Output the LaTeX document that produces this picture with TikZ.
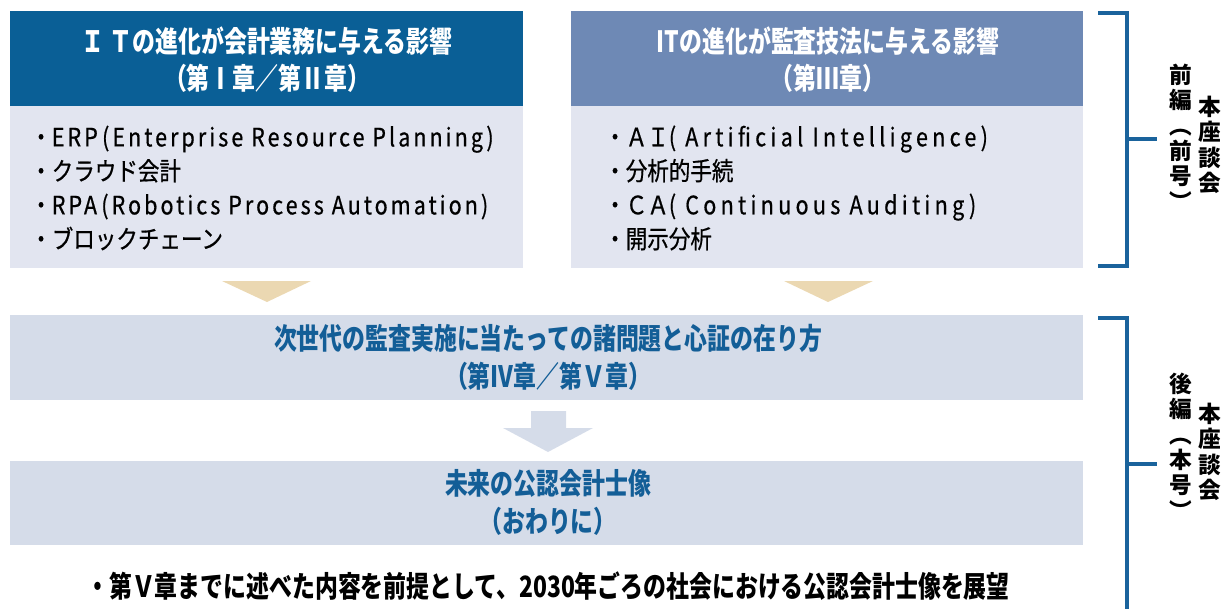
\documentclass[tikz,border=0pt]{standalone}
\usepackage{fontspec}
\setmainfont{Noto Sans CJK JP}
\newfontfamily\hcond{Noto Sans CJK JP}[FakeStretch=0.78]
\newfontfamily\bcond{Noto Sans CJK JP}[FakeStretch=0.85,FakeBold=0.6]
\newcommand{\lsp}[1]{{\addfontfeature{LetterSpace=12}#1}}
\newcommand{\lspw}[1]{{\addfontfeature{LetterSpace=17}#1}}
\definecolor{hdrL}{HTML}{0A5F96}
\definecolor{hdrR}{HTML}{6E89B5}
\definecolor{bodyL}{HTML}{E2E5F0}
\definecolor{band}{HTML}{D5DCE9}
\definecolor{tan}{HTML}{EBD8B2}
\definecolor{ink}{HTML}{135E97}
\definecolor{brk}{HTML}{1A639C}
\tikzset{
  hdrtext/.style={text=white, align=center, font=\hcond\fontsize{22}{27.75}\selectfont\bfseries, inner sep=0pt},
  bodytext/.style={text=black, align=left, anchor=west, font=\bcond\fontsize{19}{25.5}\selectfont, inner sep=0pt},
  bandtext/.style={text=ink, align=center, font=\hcond\fontsize{22}{28.5}\selectfont\bfseries, inner sep=0pt},
  vtext/.style={text=black, align=center, font=\fontsize{17}{19}\selectfont\bfseries, inner sep=0pt},
  bracket/.style={draw=brk, line width=2.4pt},
}
\begin{document}
\begin{tikzpicture}[x=0.75pt,y=-0.75pt]
\useasboundingbox (0,0) rectangle (1224,608);
% boxes
\fill[hdrL] (10,11) rectangle (523,106);
\fill[bodyL] (10,106) rectangle (523,268);
\fill[hdrR] (571,11) rectangle (1083,106);
\fill[bodyL] (571,106) rectangle (1083,268);
\fill[band] (10,315) rectangle (1083,400);
\fill[band] (10,461) rectangle (1083,545);
% triangles and arrow
\fill[tan] (222,281) -- (311,281) -- (267,302) -- cycle;
\fill[tan] (784,281) -- (873,281) -- (828,302) -- cycle;
\fill[band] (531,411) -- (566,411) -- (566,428) -- (593,428) -- (548,452) -- (503,428) -- (531,428) -- cycle;
% header texts
\node[hdrtext] (hL) at (267,60) {Ｉ Ｔの進化が会計業務に与える影響\\（第Ⅰ章／第Ⅱ章）};
\node[hdrtext] (hR) at (828,60) {ITの進化が監査技法に与える影響\\（第Ⅲ章）};
% body texts
\node[bodytext] (bL) at (30,188) {・\lsp{ERP\,(Enterprise Resource Planning)}\\・クラウド会計\\・\lsp{RPA\,(Robotics Process Automation)}\\・ブロックチェーン};
\node[bodytext] (bR) at (604,188) {・ＡＩ\lspw{( Artificial Intelligence)}\\・分析的手続\\・ＣＡ\lspw{( Continuous Auditing)}\\・開示分析};
% band texts
\node[bandtext] (m) at (548,357) {次世代の監査実施に当たっての諸問題と心証の在り方\\（第Ⅳ章／第Ｖ章）};
\node[bandtext] (f) at (548,502) {未来の公認会計士像\\（おわりに）};
\node[text=black, font=\hcond\fontsize{22}{24}\selectfont\bfseries, inner sep=0pt] (note) at (548,586) {・第Ｖ章までに述べた内容を前提として、2030年ごろの社会における公認会計士像を展望};
% brackets
\coordinate (t1) at (1098,13);
\coordinate (t2) at (1127,13);
\coordinate (t3) at (1127,266);
\coordinate (t4) at (1098,266);
\coordinate (tm) at (1127,139);
\coordinate (tt) at (1157,139);
\draw[bracket] (t1) -- (t2) -- (t3) -- (t4);
\draw[bracket] (tm) -- (tt);
\coordinate (b1) at (1098,318);
\coordinate (b2) at (1127,318);
\coordinate (b3) at (1127,610);
\coordinate (bm) at (1127,464);
\coordinate (bt) at (1157,464);
\draw[bracket] (b1) -- (b2) -- (b3);
\draw[bracket] (bm) -- (bt);
% vertical labels
\node[vtext] (v1a) at (1210,145) {本\\座\\談\\会};
\node[vtext] (v1b) at (1181,137) {前\\編\\︵\\前\\号\\︶};
\node[vtext] (v2a) at (1210,452) {本\\座\\談\\会};
\node[vtext] (v2b) at (1181,446) {後\\編\\︵\\本\\号\\︶};
\end{tikzpicture}
\end{document}
